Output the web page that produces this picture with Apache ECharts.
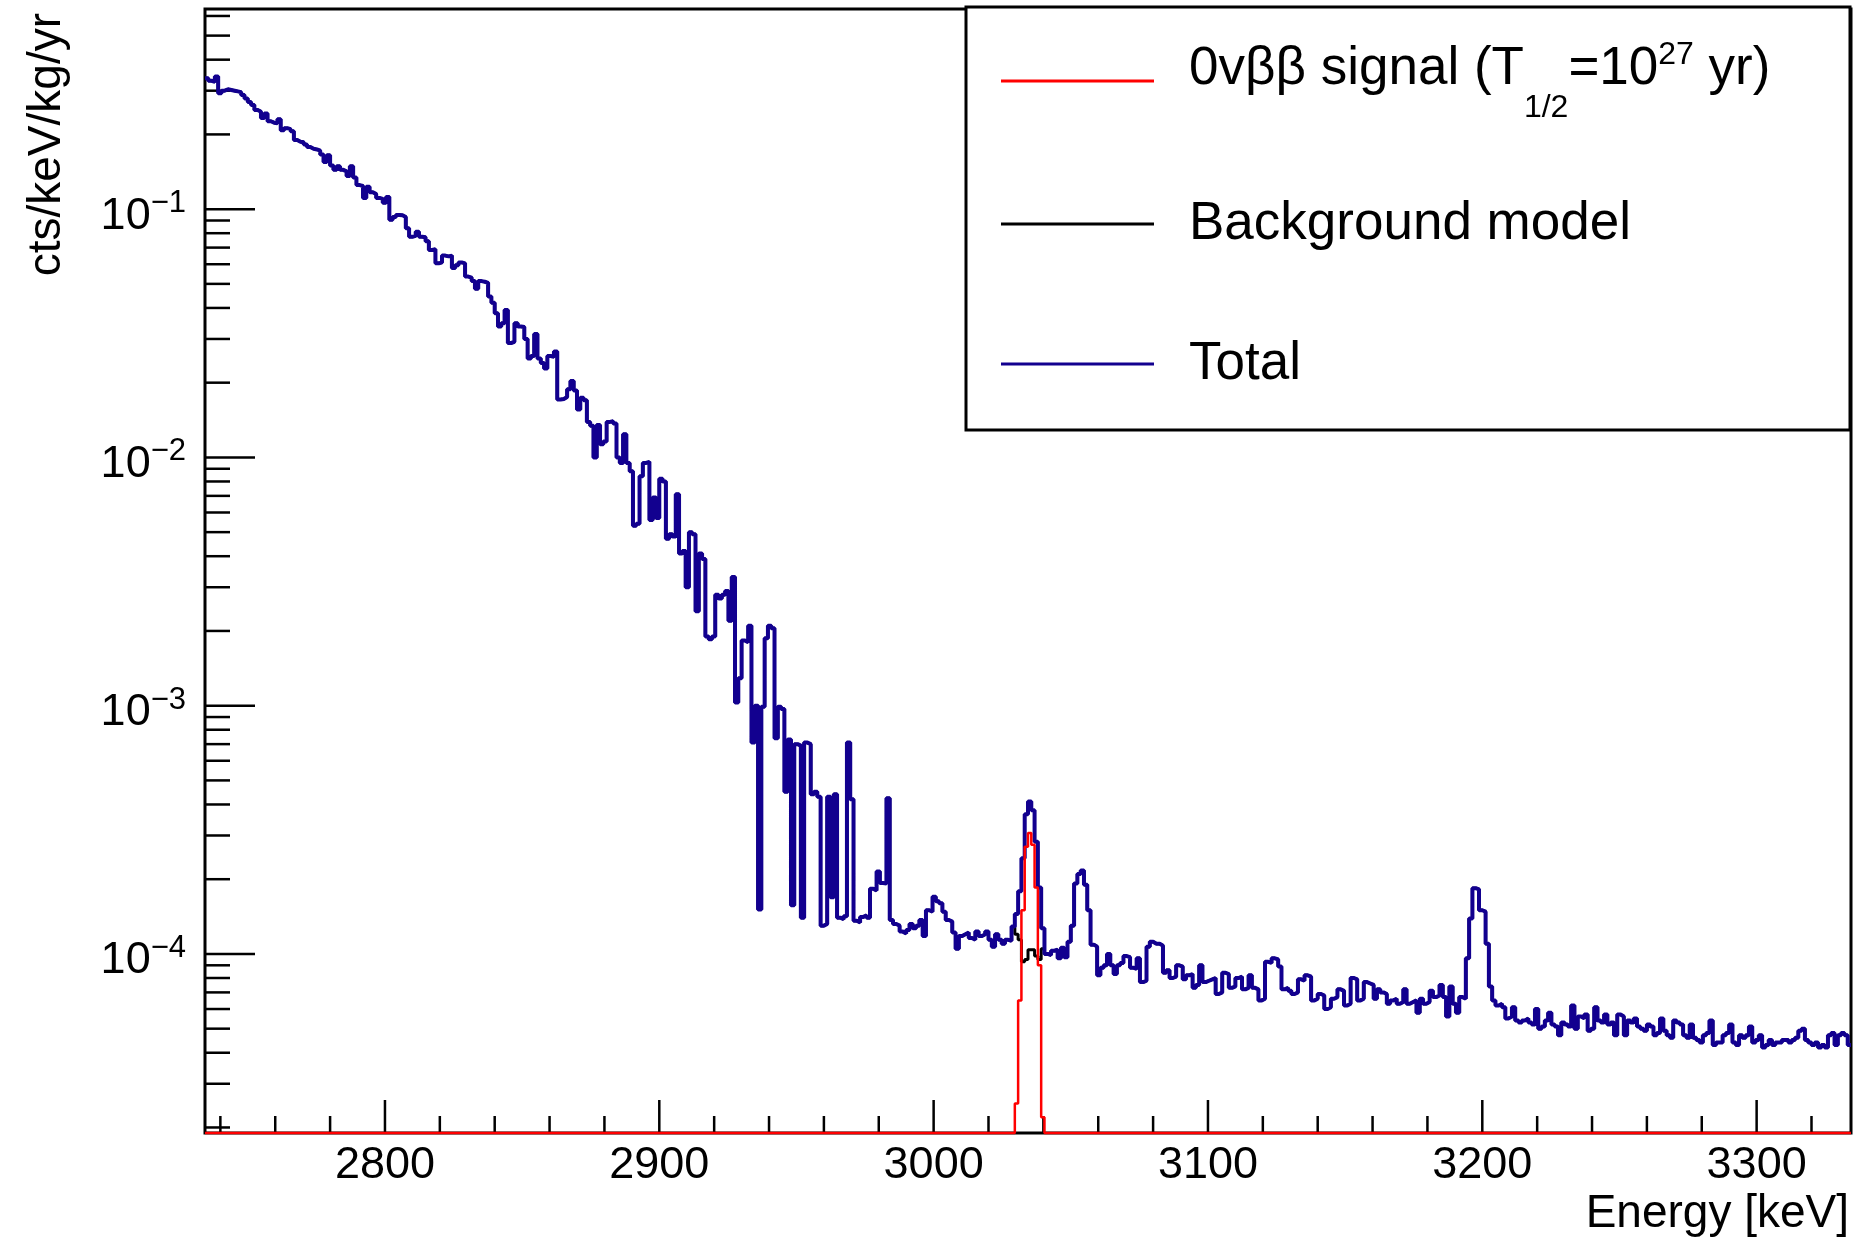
<!DOCTYPE html>
<html>
<head>
<meta charset="utf-8">
<script src="https://cdn.jsdelivr.net/npm/echarts@6/dist/echarts.min.js"></script>
<style>
html,body{margin:0;padding:0;background:#fff;}
#chart{width:1855px;height:1243px;}
</style>
</head>
<body>
<div id="chart"></div>
<script>
// ---------------- data ----------------
const energyMin = 2734.4;   // keV, lower edge of first bin
const energyMax = 3334.4;   // keV, upper edge of last bin
const binWidth = 1.2;       // keV

// Background model (cts/keV/kg/yr), 500 bins
const bkgA = [
0.337,0.329,0.326,0.342,0.293,0.300,0.304,0.302,0.300,0.298,
0.296,0.288,0.279,0.270,0.263,0.251,0.247,0.233,0.243,0.226,
0.223,0.222,0.230,0.208,0.212,0.210,0.206,0.190,0.187,0.186,
0.182,0.178,0.175,0.174,0.172,0.166,0.155,0.165,0.150,0.144,
0.149,0.144,0.142,0.136,0.149,0.134,0.125,0.124,0.111,0.123,
0.117,0.115,0.111,0.110,0.106,0.112,0.0906,0.093,0.0948,0.0945,
0.093,0.0837,0.0774,0.078,0.081,0.0774,0.077,0.0742,0.0685,0.069,
0.0605,0.061,0.065,0.0645,0.065,0.058,0.0595,0.061,0.0605,0.0535,
0.053,0.0513,0.0478,0.0513,0.051,0.0505,0.0445,0.042,0.0381,0.0337,
0.0347,0.0392,0.0289,0.0292,0.0347,0.0337,0.0335,0.030,0.025,0.0256];
const bkgB = [
0.0314,0.025,0.024,0.0228,0.0256,0.0254,0.0267,0.0171,0.0172,0.0175,
0.0188,0.0203,0.0186,0.0156,0.0174,0.017,0.0139,0.0134,0.010,0.0135,
0.0113,0.0116,0.0139,0.014,0.0137,0.010,0.0095,0.0124,0.0095,0.0088,
0.0053,0.0054,0.0084,0.0095,0.0096,0.0056,0.0069,0.0057,0.0082,0.008,
0.0047,0.0049,0.0048,0.0071,0.0041,0.0042,0.003,0.005,0.0049,0.0024,
0.0041,0.0039,0.0019,0.00185,0.0019,0.0028,0.0027,0.0028,0.0029,0.0022,
0.0033,0.00103,0.00129,0.00183,0.0018,0.0021,0.00071,0.001,1.51e-4,9.9e-4,
0.00187,0.0021,0.00205,7.4e-4,9.9e-4,9.7e-4,4.5e-4,7.3e-4,1.57e-4,7.0e-4,
6.9e-4,1.40e-4,7.1e-4,7.0e-4,4.4e-4,4.5e-4,4.3e-4,1.30e-4,1.32e-4,4.3e-4,
1.69e-4,4.4e-4,1.40e-4,1.38e-4,1.42e-4,7.1e-4,4.2e-4,1.36e-4,1.34e-4,1.41e-4];
const bkgC = [
1.43e-4,1.40e-4,1.83e-4,1.80e-4,2.15e-4,1.93e-4,1.92e-4,4.24e-4,1.37e-4,1.32e-4,
1.30e-4,1.23e-4,1.21e-4,1.25e-4,1.32e-4,1.27e-4,1.30e-4,1.37e-4,1.18e-4,1.50e-4,
1.48e-4,1.70e-4,1.63e-4,1.60e-4,1.48e-4,1.37e-4,1.35e-4,1.22e-4,1.05e-4,1.18e-4,
1.20e-4,1.22e-4,1.16e-4,1.14e-4,1.23e-4,1.18e-4,1.20e-4,1.23e-4,1.14e-4,1.07e-4,
1.20e-4,1.14e-4,1.10e-4,1.14e-4,1.13e-4,1.29e-4,1.20e-4,1.14e-4,9.3e-5,9.5e-5,
1.04e-4,1.04e-4,9.8e-5,9.5e-5,1.05e-4,1.00e-4,9.9e-5,1.03e-4,1.04e-4,9.6e-5,
1.06e-4,9.7e-5,1.12e-4,1.30e-4,1.92e-4,2.10e-4,2.17e-4,1.90e-4,1.50e-4,1.09e-4,
1.07e-4,8.2e-5,8.8e-5,9.0e-5,1.00e-4,9.0e-5,8.3e-5,9.0e-5,9.2e-5,9.8e-5,
9.7e-5,8.8e-5,8.7e-5,9.6e-5,7.7e-5,7.8e-5,1.07e-4,1.12e-4,1.10e-4,1.10e-4,
1.08e-4,8.4e-5,8.6e-5,8.0e-5,8.1e-5,9.0e-5,8.9e-5,7.9e-5,8.2e-5,8.3e-5];
const bkgD = [
7.3e-5,7.5e-5,9.0e-5,7.7e-5,7.8e-5,7.9e-5,8.0e-5,6.9e-5,7.0e-5,8.4e-5,
8.3e-5,7.3e-5,7.4e-5,8.0e-5,8.1e-5,7.2e-5,7.3e-5,8.2e-5,7.3e-5,7.2e-5,
6.5e-5,6.6e-5,9.3e-5,9.2e-5,9.6e-5,9.5e-5,8.9e-5,7.2e-5,7.3e-5,7.1e-5,
6.9e-5,7.0e-5,7.9e-5,7.8e-5,8.2e-5,8.1e-5,6.5e-5,6.6e-5,6.9e-5,6.8e-5,
6.0e-5,6.1e-5,6.6e-5,6.7e-5,7.2e-5,7.1e-5,6.2e-5,6.3e-5,8.0e-5,7.9e-5,
6.5e-5,6.6e-5,7.7e-5,7.6e-5,7.5e-5,6.6e-5,7.2e-5,7.0e-5,6.9e-5,6.3e-5,
6.5e-5,6.6e-5,6.3e-5,6.4e-5,7.2e-5,6.3e-5,6.4e-5,6.5e-5,5.8e-5,6.6e-5,
6.3e-5,6.4e-5,7.1e-5,6.7e-5,6.8e-5,7.5e-5,6.7e-5,5.6e-5,7.4e-5,6.3e-5,
5.8e-5,6.7e-5,6.6e-5,9.6e-5,1.39e-4,1.84e-4,1.82e-4,1.50e-4,1.48e-4,1.10e-4,
7.4e-5,6.5e-5,6.2e-5,6.3e-5,6.1e-5,5.5e-5,5.6e-5,6.1e-5,5.4e-5,5.3e-5];
const bkgE = [
5.4e-5,5.5e-5,5.3e-5,5.2e-5,6.0e-5,5.0e-5,5.1e-5,5.4e-5,5.8e-5,5.2e-5,
5.1e-5,4.7e-5,5.3e-5,5.2e-5,5.1e-5,6.2e-5,5.0e-5,5.6e-5,5.5e-5,5.7e-5,
4.9e-5,5.0e-5,6.1e-5,5.4e-5,5.3e-5,5.7e-5,5.2e-5,5.3e-5,4.7e-5,5.7e-5,
5.6e-5,4.7e-5,5.4e-5,5.3e-5,5.5e-5,5.1e-5,5.0e-5,4.9e-5,5.2e-5,5.1e-5,
4.7e-5,4.8e-5,5.5e-5,4.9e-5,4.7e-5,4.6e-5,5.4e-5,5.3e-5,5.2e-5,4.7e-5,
4.6e-5,5.2e-5,4.6e-5,4.5e-5,4.4e-5,4.7e-5,4.8e-5,5.4e-5,4.3e-5,4.4e-5,
4.4e-5,4.7e-5,4.8e-5,5.2e-5,4.4e-5,4.3e-5,4.7e-5,4.6e-5,4.7e-5,5.1e-5,
4.4e-5,4.5e-5,4.7e-5,4.2e-5,4.3e-5,4.5e-5,4.3e-5,4.4e-5,4.4e-5,4.5e-5,
4.5e-5,4.4e-5,4.5e-5,4.6e-5,4.9e-5,5.0e-5,4.5e-5,4.4e-5,4.3e-5,4.4e-5,
4.2e-5,4.3e-5,4.2e-5,4.7e-5,4.8e-5,4.3e-5,4.7e-5,4.8e-5,4.7e-5,4.3e-5];

// 0vbb signal: non-zero bins only (first non-zero bin index, values)
const signalFirstBin = 246;
const signalValues = [2.5e-5, 6.5e-5, 1.5e-4, 2.7e-4, 3.07e-4, 2.75e-4, 1.85e-4, 9.0e-5, 2.2e-5];

// axes
const yMin = 1.9e-5, yMax = 0.64;
const xTickLabels = [2800, 2900, 3000, 3100, 3200, 3300];
const xMinorTicks = [2740,2760,2780,2820,2840,2860,2880,2920,2940,2960,2980,3020,3040,3060,3080,3120,3140,3160,3180,3220,3240,3260,3280,3320];
const yMajorTicks = [1e-4, 1e-3, 1e-2, 1e-1];
const yMinorMantissas = [2,3,4,5,6,7,8,9];

const seriesNames = ['0vββ signal (T1/2=10^27 yr)', 'Background model', 'Total'];

// ---------------- build ----------------
const background = bkgA.concat(bkgB, bkgC, bkgD, bkgE);
const signal = background.map((_, i) => {
  const j = i - signalFirstBin;
  return (j >= 0 && j < signalValues.length) ? signalValues[j] : 0;
});
const total = background.map((b, i) => b + signal[i]);

// histogram outline: one point per bin lower edge (+ closing edge); empty bins sit on the frame floor like ROOT
function histPoints(vals) {
  const pts = vals.map((v, i) => [energyMin + i * binWidth, v > 0 ? v : yMin]);
  const last = vals[vals.length - 1];
  pts.push([energyMax, last > 0 ? last : yMin]);
  return pts;
}

const yMinorTicks = [];
[-5, -4, -3, -2, -1].forEach(e => yMinorMantissas.forEach(m => {
  const v = m * Math.pow(10, e);
  if (v > yMin && v < yMax) yMinorTicks.push(v);
}));
const yTickData = yMajorTicks.map(v => [energyMin, v, 1]).concat(yMinorTicks.map(v => [energyMin, v, 0]));
const xTickData = xTickLabels.map(v => [v, yMin, 1]).concat(xMinorTicks.map(v => [v, yMin, 0]));

const FONT = "'Liberation Sans', Arial, Helvetica, sans-serif";

function tickRenderer(dir) {
  return function (params, api) {
    const p = api.coord([api.value(0), api.value(1)]);
    const major = api.value(2) === 1;
    let shape;
    if (dir === 'y') {
      const len = major ? 50 : 25;
      shape = { x1: p[0], y1: p[1], x2: p[0] + len, y2: p[1] };
    } else {
      const len = major ? 33 : 17;
      shape = { x1: p[0], y1: p[1], x2: p[0], y2: p[1] - len };
    }
    return { type: 'line', shape: shape, style: { stroke: '#000', lineWidth: 2.5 } };
  };
}

const chart = echarts.init(document.getElementById('chart'), null, { renderer: 'canvas' });

const option = {
  animation: false,
  backgroundColor: '#fff',
  grid: {
    left: 205, right: 4, top: 9, bottom: 110,
    show: true, borderColor: '#000', borderWidth: 3, backgroundColor: 'transparent'
  },
  xAxis: {
    type: 'value', min: energyMin, max: energyMax,
    axisLine: { show: false }, axisTick: { show: false }, splitLine: { show: false },
    axisLabel: {
      customValues: xTickLabels,
      formatter: v => (Math.abs(v / 100 - Math.round(v / 100)) < 1e-6 ? String(Math.round(v)) : ''),
      fontSize: 45, fontFamily: FONT, color: '#000', margin: 10
    }
  },
  yAxis: {
    type: 'log', logBase: 10, min: yMin, max: yMax,
    axisLine: { show: false }, axisTick: { show: false }, splitLine: { show: false },
    axisLabel: {
      showMinLabel: false, showMaxLabel: false,
      margin: 19,
      formatter: function (v) {
        const l = Math.log10(v);
        const e = Math.round(l);
        if (Math.abs(l - e) > 1e-6) return '';
        return '{b|10}{s|' + (e < 0 ? '\u2212' + (-e) : e) + '}';
      },
      rich: {
        b: { fontSize: 45, fontFamily: FONT, color: '#000', lineHeight: 62, padding: [14, 0, 0, 0] },
        s: { fontSize: 31, fontFamily: FONT, color: '#000', lineHeight: 62, padding: [0, 0, 11, 0] }
      }
    }
  },
  legend: {
    data: seriesNames,
    orient: 'vertical',
    left: 1001, top: 38,
    padding: 0,
    itemWidth: 153, itemHeight: 3, itemGap: 60,
    icon: 'rect',
    selectedMode: false,
    formatter: function (name) {
      if (name === seriesNames[0]) return '{f|0vββ signal (T}{s|1/2}{m|=10}{p|27}{m| yr)}';
      return '{n|' + name + '}';
    },
    textStyle: {
      fontFamily: FONT, fontSize: 52, color: '#000', lineHeight: 80,
      rich: {
        f: { fontFamily: FONT, fontSize: 53, color: '#000', lineHeight: 80, padding: [0, 0, 24, 30] },
        m: { fontFamily: FONT, fontSize: 53, color: '#000', lineHeight: 80, padding: [0, 0, 24, 0] },
        s: { fontFamily: FONT, fontSize: 32, color: '#000', lineHeight: 80, padding: [54, 0, 0, 0] },
        p: { fontFamily: FONT, fontSize: 32, color: '#000', lineHeight: 80, padding: [0, 0, 52, 0] },
        n: { fontFamily: FONT, fontSize: 53, color: '#000', lineHeight: 80, padding: [0, 0, 0, 30] }
      }
    }
  },
  graphic: [
    { type: 'rect', z: 3, shape: { x: 966, y: 7, width: 884, height: 423 },
      style: { fill: '#fff', stroke: '#000', lineWidth: 3 } },
    { type: 'text', x: 47, y: 13, rotation: Math.PI / 2,
      style: { text: 'cts/keV/kg/yr', fontSize: 46, fontFamily: FONT, fill: '#000', align: 'right', verticalAlign: 'middle' } },
    { type: 'text', x: 1849, y: 1214,
      style: { text: 'Energy [keV]', fontSize: 46, fontFamily: FONT, fill: '#000', align: 'right', verticalAlign: 'middle' } }
  ],
  series: [
    { name: seriesNames[1], type: 'line', step: 'end', data: histPoints(background),
      showSymbol: false, symbol: 'none', clip: false, color: '#000',
      lineStyle: { color: '#000', width: 3 }, z: 2 },
    { name: seriesNames[2], type: 'line', step: 'end', data: histPoints(total),
      showSymbol: false, symbol: 'none', clip: false, color: '#12008f',
      lineStyle: { color: '#12008f', width: 4 }, z: 2 },
    { name: seriesNames[0], type: 'line', step: 'end', data: histPoints(signal),
      showSymbol: false, symbol: 'none', clip: false, color: '#ff0000',
      lineStyle: { color: '#ff0000', width: 2.5 }, z: 2 },
    { type: 'custom', coordinateSystem: 'cartesian2d', data: yTickData, encode: { x: 0, y: 1 },
      renderItem: tickRenderer('y'), silent: true, z: 2 },
    { type: 'custom', coordinateSystem: 'cartesian2d', data: xTickData, encode: { x: 0, y: 1 },
      renderItem: tickRenderer('x'), silent: true, z: 2 }
  ]
};
chart.setOption(option);
</script>
</body>
</html>
